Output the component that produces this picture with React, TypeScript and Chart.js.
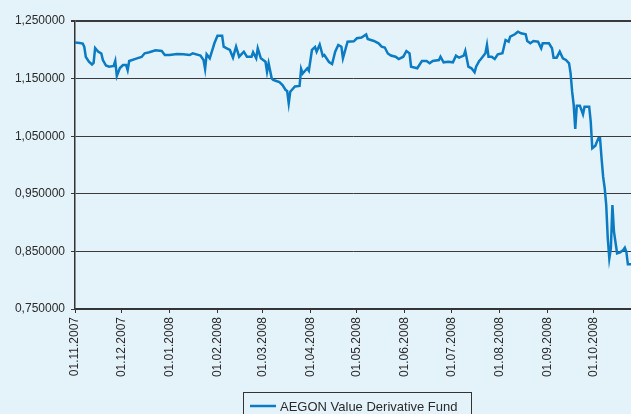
import React, { useEffect, useRef } from "react";
import { Chart, registerables } from "chart.js";

Chart.register(...registerables);

const seriesLabel = "AEGON Value Derivative Fund";

// days since 01.11.2007
const dayOffsets = [
  0, 3, 5, 6, 7, 9, 11, 12, 13, 15, 17, 18, 20, 22, 25, 26, 27, 29, 31, 33, 34, 35, 40, 43, 45, 48, 52, 56, 58, 61, 66, 70, 74,
  76, 81, 83, 84, 85, 87, 89, 90, 92, 95, 96, 98, 100, 102, 104, 106, 109, 111, 114, 115, 117, 118, 120, 123, 124, 125, 127,
  128, 130, 132, 134, 136, 137, 138, 139, 142, 145, 146, 147, 150, 151, 153, 155, 156, 158, 160, 161, 164, 166, 168, 170, 172,
  173, 176, 180, 182, 185, 188, 189, 193, 196, 198, 200, 202, 204, 207, 209, 212, 214, 216, 217, 221, 224, 227, 229, 231, 235,
  236, 238, 241, 244, 246, 248, 251, 252, 254, 256, 258, 259, 261, 262, 265, 266, 267, 269, 271, 273, 276, 278, 280, 281, 284,
  286, 288, 291, 292, 294, 296, 299, 301, 302, 306, 308, 309, 311, 313, 315, 317, 319, 320, 321, 322, 323, 324, 326, 328, 329,
  332, 333, 334, 336, 337, 338, 339, 340, 341, 342, 343, 344, 345, 346, 347, 348, 350, 352, 354, 355, 356, 357, 359,
];

const fundValues = [
  1.2127, 1.2118, 1.2109, 1.2049, 1.1875, 1.1793, 1.1745, 1.1771, 1.2031, 1.1967, 1.1936, 1.1823, 1.1727, 1.1707, 1.1719,
  1.1806, 1.1545, 1.1684, 1.1736, 1.1736, 1.1649, 1.1806, 1.1852, 1.1875, 1.1939, 1.1957, 1.1991, 1.1979, 1.191, 1.191,
  1.1927, 1.1922, 1.191,
  1.1939, 1.1901, 1.1823, 1.1667, 1.1922, 1.1852, 1.2026, 1.2113, 1.2245, 1.2245, 1.2054, 1.2026, 1.1997, 1.1863, 1.2054,
  1.188, 1.1967, 1.188, 1.188, 1.1957, 1.1852, 1.2026, 1.1852, 1.1793, 1.162, 1.1766, 1.1505,
  1.1476, 1.1458, 1.1441, 1.1389, 1.1302, 1.1285, 1.1071, 1.1273, 1.1363, 1.1372, 1.1667, 1.1589, 1.1679, 1.1637, 1.1997,
  1.2049, 1.1967, 1.2092, 1.1892, 1.191, 1.1788, 1.1753, 1.1967, 1.2083, 1.2054,
  1.1852, 1.2141, 1.2148, 1.22, 1.2214, 1.2266, 1.2188, 1.2153, 1.2113, 1.2054, 1.204, 1.1936, 1.1901, 1.188, 1.184, 1.188,
  1.1979, 1.1939, 1.1707, 1.1679, 1.1806, 1.1806, 1.1766, 1.1806, 1.1823,
  1.188, 1.1783, 1.1793, 1.1783, 1.1898, 1.1863, 1.1898, 1.1979, 1.1707, 1.1679, 1.1609, 1.1707, 1.1806, 1.1835, 1.1939,
  1.2083, 1.188, 1.188, 1.184, 1.1922, 1.1939, 1.217, 1.2141, 1.2227, 1.2269,
  1.2314, 1.2286, 1.2269, 1.2153, 1.2113, 1.2153, 1.2141, 1.2026, 1.2113, 1.2113, 1.2026, 1.1863, 1.1863, 1.1967, 1.1852,
  1.1823, 1.1766, 1.1592, 1.1273, 1.1042, 1.0625, 1.103, 1.103, 1.088, 1.1012,
  1.1012, 1.0752, 1.029, 1.0335, 1.0405, 1.0464, 1.0464, 1.0116, 0.9797, 0.9601, 0.9306, 0.8727, 0.838, 0.8554, 0.9306,
  0.8842, 0.8467, 0.8484, 0.8524, 0.8564, 0.8495, 0.8276, 0.8276,
];

const monthTickDays = [0, 30, 61, 92, 121, 152, 182, 213, 243, 274, 305, 335];
const monthTickLabels = [
  "01.11.2007",
  "01.12.2007",
  "01.01.2008",
  "01.02.2008",
  "01.03.2008",
  "01.04.2008",
  "01.05.2008",
  "01.06.2008",
  "01.07.2008",
  "01.08.2008",
  "01.09.2008",
  "01.10.2008",
];
const yTickValues = [0.75, 0.85, 0.95, 1.05, 1.15, 1.25];

const BG = "#e4f2f9";
const LINE = "#0b7cc3";
const TEXT = "#2a2a2a";
const AXIS = "#333333";
const FONT = "'Liberation Sans', Arial, sans-serif";

const legendBoxPlugin = {
  id: "legendBox",
  afterDraw(chart: any) {
    const ctx = chart.ctx;
    ctx.save();
    ctx.strokeStyle = AXIS;
    ctx.lineWidth = 1;
    ctx.strokeRect(243.5, 392.5, 228, 30);
    ctx.strokeStyle = LINE;
    ctx.lineWidth = 2.5;
    ctx.beginPath();
    ctx.moveTo(250, 406);
    ctx.lineTo(276, 406);
    ctx.stroke();
    ctx.fillStyle = TEXT;
    ctx.font = "13px " + FONT;
    ctx.textBaseline = "alphabetic";
    ctx.textAlign = "left";
    ctx.fillText(seriesLabel, 280, 410.5);
    ctx.restore();
  },
};

export default function App() {
  const ref = useRef<HTMLCanvasElement | null>(null);

  useEffect(() => {
    if (!ref.current) return;
    const points = dayOffsets.map((d, i) => ({ x: d, y: fundValues[i] }));
    const chart = new Chart(ref.current, {
      type: "line",
      data: {
        datasets: [
          {
            label: seriesLabel,
            data: points,
            borderColor: LINE,
            backgroundColor: LINE,
            borderWidth: 2.5,
            pointRadius: 0,
            tension: 0,
            fill: false,
          },
        ],
      },
      options: {
        animation: false,
        responsive: false,
        events: [],
        layout: { padding: { top: 21, right: 0, bottom: 0, left: 0 } },
        plugins: {
          legend: { display: false },
          tooltip: { enabled: false },
        },
        scales: {
          x: {
            type: "linear",
            min: 0,
            max: 359,
            afterBuildTicks: (s: any) => {
              s.ticks = monthTickDays.map((v) => ({ value: v }));
            },
            afterFit: (s: any) => {
              s.height = 105;
            },
            ticks: {
              autoSkip: false,
              maxRotation: 90,
              minRotation: 90,
              padding: 4,
              color: TEXT,
              font: { family: FONT, size: 12 },
              callback: (v: any) => {
                const i = monthTickDays.indexOf(Number(v));
                return i >= 0 ? monthTickLabels[i] : "";
              },
            },
            grid: {
              display: true,
              drawOnChartArea: false,
              drawTicks: true,
              tickLength: 4,
              color: AXIS,
            },
            border: { display: true, color: AXIS, width: 1.5 },
          },
          y: {
            min: 0.75,
            max: 1.25,
            afterBuildTicks: (s: any) => {
              s.ticks = yTickValues.map((v) => ({ value: v }));
            },
            afterFit: (s: any) => {
              s.width = 75;
            },
            ticks: {
              padding: 6,
              color: TEXT,
              font: { family: FONT, size: 12 },
              callback: (v: any) => Number(v).toFixed(6).replace(".", ","),
            },
            grid: {
              color: "#3a3a3a",
              lineWidth: (c: any) => (c.tick && Math.abs(c.tick.value - 1.25) < 1e-6 ? 2 : 1),
              tickLength: 4,
            },
            border: { display: true, color: AXIS, width: 1.5 },
          },
        },
      },
      plugins: [legendBoxPlugin],
    });
    return () => chart.destroy();
  }, []);

  return (
    <div
      style={{
        position: "absolute",
        left: 0,
        top: 0,
        width: 631,
        height: 414,
        background: BG,
        overflow: "hidden",
      }}
    >
      <canvas ref={ref} width={631} height={414} style={{ display: "block" }} />
    </div>
  );
}
